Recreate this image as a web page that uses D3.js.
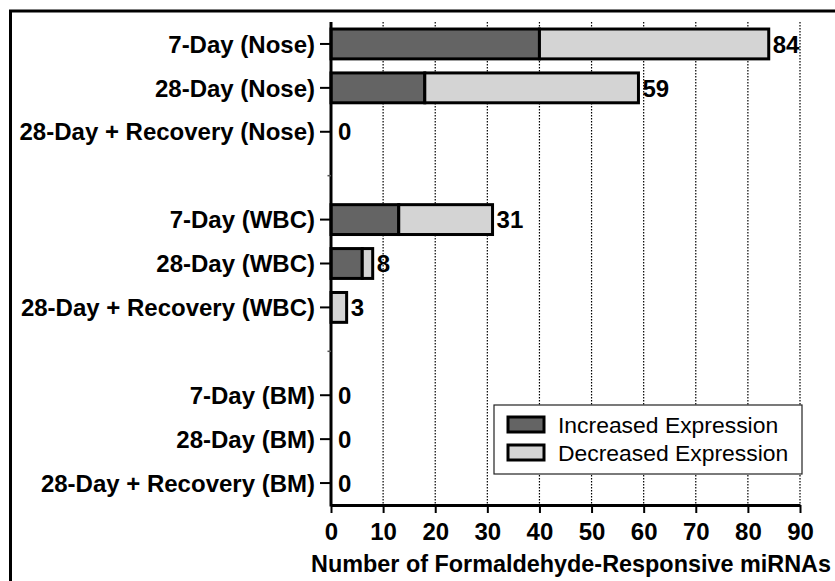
<!DOCTYPE html>
<html>
<head>
<meta charset="utf-8">
<script src="https://cdn.jsdelivr.net/npm/d3@7"></script>
<style>
  html, body { margin: 0; padding: 0; background: #fff; }
  svg { display: block; font-family: "Liberation Sans", Arial, sans-serif; }
</style>
</head>
<body>
<svg id="chart" width="835" height="581"></svg>
<script>
// Row labels, top to bottom; empty strings are spacer rows between tissue groups
const categories = [
  "7-Day (Nose)", "28-Day (Nose)", "28-Day + Recovery (Nose)", "",
  "7-Day (WBC)", "28-Day (WBC)", "28-Day + Recovery (WBC)", "",
  "7-Day (BM)", "28-Day (BM)", "28-Day + Recovery (BM)"
];
// miRNA counts per row (null for spacer rows)
const increased = [40, 18, 0, null, 13, 6, 0, null, 0, 0, 0];
const decreased = [44, 41, 0, null, 18, 2, 3, null, 0, 0, 0];
const totals    = [84, 59, 0, null, 31, 8, 3, null, 0, 0, 0];
const seriesNames = ["Increased Expression", "Decreased Expression"];
const seriesColors = ["#646464", "#d4d4d4"];
const xTicks = [0, 10, 20, 30, 40, 50, 60, 70, 80, 90];
const xTitle = "Number of Formaldehyde-Responsive miRNAs";

const svg = d3.select("#chart");
const FS = 24;

// outer frame
svg.append("rect")
  .attr("x", 10.5).attr("y", 11).attr("width", 840).attr("height", 600)
  .attr("fill", "none").attr("stroke", "#000").attr("stroke-width", 3);

const plotL = 331, plotR = 800, plotT = 22, plotB = 505;

const x = d3.scaleLinear().domain([0, 90]).range([plotL, plotR]);
const y = d3.scaleBand().domain(d3.range(categories.length))
  .range([plotT, plotB]).paddingInner(0.32).paddingOuter(0.16);
const yMid = i => y(i) + y.bandwidth() / 2;

// dotted vertical grid
svg.append("g").selectAll("line")
  .data(xTicks.filter(t => t > 0))
  .join("line")
  .attr("x1", d => x(d)).attr("x2", d => x(d))
  .attr("y1", plotT).attr("y2", plotB)
  .attr("stroke", "#000").attr("stroke-width", 1.2)
  .attr("stroke-dasharray", "1.5,1.5");

// stacked bars
const allRows = categories.map((c, i) => ({
  i, c, inc: increased[i], dec: decreased[i], total: totals[i]
}));
const rows = allRows.filter(d => d.c !== "");
const spacers = allRows.filter(d => d.c === "");

const barG = svg.append("g");
rows.forEach(d => {
  const segs = [
    { x0: 0, x1: d.inc, color: seriesColors[0] },
    { x0: d.inc, x1: d.inc + d.dec, color: seriesColors[1] }
  ].filter(s => s.x1 > s.x0);
  segs.forEach(s => {
    barG.append("rect")
      .attr("x", x(s.x0)).attr("y", y(d.i))
      .attr("width", x(s.x1) - x(s.x0)).attr("height", y.bandwidth())
      .attr("fill", s.color).attr("stroke", "#000").attr("stroke-width", 3);
  });
});

// value labels
svg.append("g").selectAll("text")
  .data(rows)
  .join("text")
  .attr("x", d => x(d.total) + (d.total > 0 ? 4 : 7))
  .attr("y", d => yMid(d.i))
  .attr("dy", "0.36em")
  .attr("font-size", FS).attr("font-weight", "bold")
  .text(d => d.total);

// y axis
const yAxis = svg.append("g");
yAxis.append("line")
  .attr("x1", plotL).attr("x2", plotL).attr("y1", plotT).attr("y2", plotB + 1.5)
  .attr("stroke", "#000").attr("stroke-width", 3);
yAxis.selectAll("line.tick")
  .data(rows).join("line").attr("class", "tick")
  .attr("x1", plotL - 11).attr("x2", plotL)
  .attr("y1", d => yMid(d.i)).attr("y2", d => yMid(d.i))
  .attr("stroke", "#000").attr("stroke-width", 2);
// stub ticks on the spacer rows
yAxis.selectAll("line.stub")
  .data(spacers).join("line").attr("class", "stub")
  .attr("x1", plotL - 3.5).attr("x2", plotL)
  .attr("y1", d => yMid(d.i)).attr("y2", d => yMid(d.i))
  .attr("stroke", "#555").attr("stroke-width", 1.5);
yAxis.selectAll("text")
  .data(rows).join("text")
  .attr("x", plotL - 16)
  .attr("y", d => yMid(d.i))
  .attr("dy", "0.36em")
  .attr("text-anchor", "end")
  .attr("font-size", FS).attr("font-weight", "bold")
  .text(d => d.c);

// x axis
const xAxis = svg.append("g").attr("transform", `translate(0,${plotB})`)
  .call(d3.axisBottom(x).tickValues(xTicks).tickSize(8).tickSizeOuter(0).tickPadding(10));
xAxis.select(".domain").attr("stroke-width", 3);
xAxis.selectAll(".tick line").attr("stroke-width", 2);
xAxis.selectAll(".tick text")
  .attr("font-size", FS).attr("font-weight", "bold")
  .attr("font-family", "Liberation Sans, Arial, sans-serif").attr("fill", "#000");

svg.append("text")
  .attr("x", 571).attr("y", 572)
  .attr("text-anchor", "middle")
  .attr("font-size", 23.4).attr("font-weight", "bold")
  .text(xTitle);

// legend
const lg = svg.append("g");
lg.append("rect")
  .attr("x", 494).attr("y", 405).attr("width", 308).attr("height", 69)
  .attr("fill", "#fff").attr("stroke", "#222").attr("stroke-width", 1.2);
seriesNames.forEach((name, k) => {
  const yy = 417 + k * 28;
  lg.append("rect")
    .attr("x", 508).attr("y", yy).attr("width", 36).attr("height", 15)
    .attr("fill", seriesColors[k]).attr("stroke", "#000").attr("stroke-width", 3);
  lg.append("text")
    .attr("x", 558).attr("y", yy + 8).attr("dy", "0.36em")
    .attr("font-size", 22.9)
    .text(name);
});
</script>
</body>
</html>
